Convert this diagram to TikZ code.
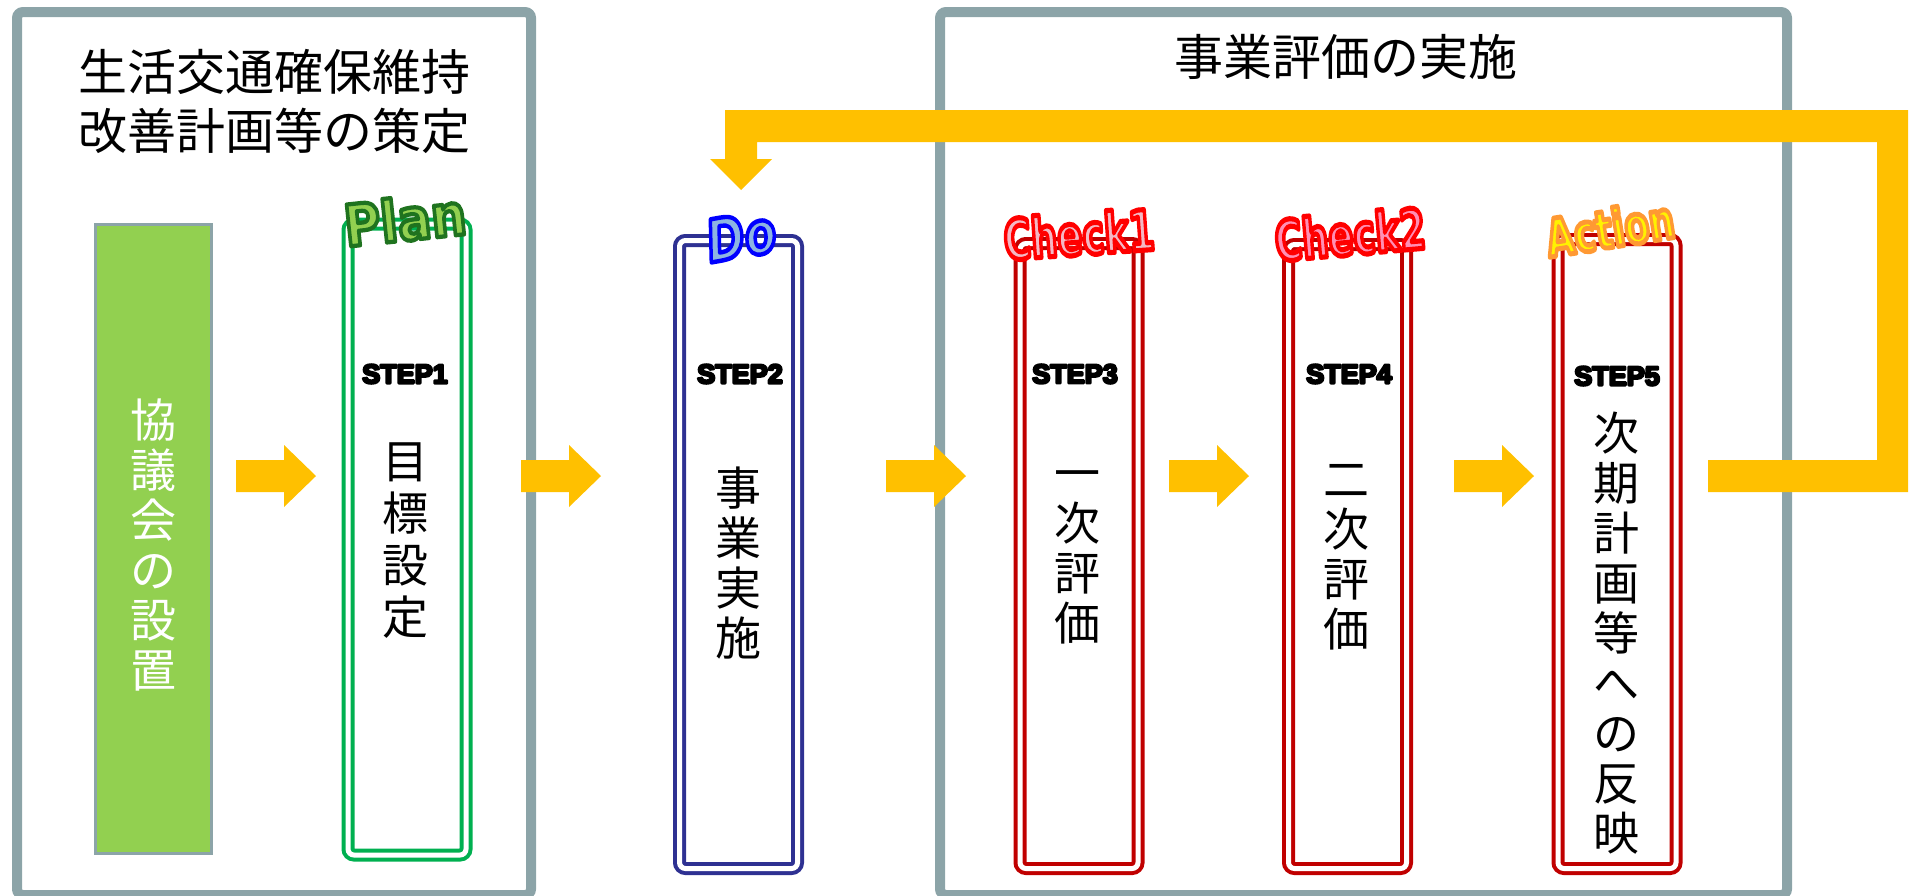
\documentclass[tikz,border=0pt]{standalone}
\usepackage{fontspec}
\usepackage{graphicx}
\newfontfamily\cjk{Noto Sans CJK JP}
\newfontfamily\wafont{DejaVu Sans Bold}
\newfontfamily\waifont{DejaVu Sans Bold Oblique}
\newfontfamily\stepfont{Liberation Sans Bold}
\usetikzlibrary{calc}
\definecolor{framegray}{HTML}{8CA4A8}
\definecolor{arrowyellow}{HTML}{FFC000}
\definecolor{leafgreen}{HTML}{92D050}
\definecolor{plangreen}{HTML}{00B050}
\definecolor{navyblue}{HTML}{2E3192}
\definecolor{darkred}{HTML}{C00000}
\definecolor{dofill}{HTML}{8DB4E2}
\definecolor{pinkA}{HTML}{F4B8C4}
\definecolor{pinkB}{HTML}{FF8FB4}
% outlined text: #1 stroke rgb (0..1), #2 stroke width, #3 text
\newcommand\outlined[3]{\special{pdf:literal direct #1 RG #2 w 1 j 2 Tr}#3\special{pdf:literal direct 0 Tr}}
\tikzset{
  frame/.style={draw=framegray, line width=10pt, rounded corners=6pt},
  stepbox/.style={rectangle, line width=4pt, double=white, double distance=5pt,
    rounded corners=6pt, minimum width=118pt, inner sep=0pt},
  vtext/.style={font=\cjk\fontsize{46}{50}\selectfont, align=center, inner sep=0pt},
  titletext/.style={font=\cjk\fontsize{49}{59}\selectfont, align=center, inner sep=0pt},
  steplabel/.style={font=\stepfont\fontsize{27}{27}\selectfont, inner sep=0pt},
  watext/.style={inner sep=0pt},
  blockarrow/.pic={\fill[arrowyellow] (0,-16) -- (48,-16) -- (48,-31) -- (80,0) -- (48,31) -- (48,16) -- (0,16) -- cycle;}
}
\begin{document}
\begin{tikzpicture}[x=1pt,y=-1pt]
\useasboundingbox (0,0) rectangle (1910,895);
% frames
\draw[frame] (17,12) rectangle (531,895);
\draw[frame] (940,12) rectangle (1787,895);
\node[titletext] (t1) at (274,101) {生活交通確保維持\\改善計画等の策定};
\node[titletext] (t2) at (1346,57) {事業評価の実施};
% green box
\node[rectangle, fill=leafgreen, draw=framegray, line width=3pt, minimum width=116pt, minimum height=629pt, inner sep=0pt] (kyogi) at (153.5,539) {};
\node[vtext, text=white] (kyogit) at (153.5,545) {協\\議\\会\\の\\設\\置};
% step boxes
\node[stepbox, draw=plangreen, minimum height=631pt] (s1) at (407,539.5) {};
\node[stepbox, draw=navyblue, minimum height=628pt] (s2) at (738.5,554.5) {};
\node[stepbox, draw=darkred, minimum height=625pt] (s3) at (1079,556) {};
\node[stepbox, draw=darkred, minimum height=624pt] (s4) at (1347.5,556.5) {};
\node[stepbox, draw=darkred, minimum height=629pt] (s5) at (1617,554) {};
% step labels
\node[steplabel] (l1) at (405,374) {\outlined{0 0 0}{2.4}{STEP1}};
\node[steplabel] (l2) at (740,374) {\outlined{0 0 0}{2.4}{STEP2}};
\node[steplabel] (l3) at (1075,374) {\outlined{0 0 0}{2.4}{STEP3}};
\node[steplabel] (l4) at (1349,374) {\outlined{0 0 0}{2.4}{STEP4}};
\node[steplabel] (l5) at (1617,376) {\outlined{0 0 0}{2.4}{STEP5}};
% vertical texts
\node[vtext, font=\cjk\fontsize{46}{52}\selectfont] (v1) at (405,541) {目\\標\\設\\定};
\node[vtext] (v2) at (738,563) {事\\業\\実\\施};
\node[vtext] (v3) at (1077,557) {一\\次\\評\\価};
\node[vtext] (v4) at (1346,557) {二\\次\\評\\価};
\node[vtext] (v5) at (1616,633) {次\\期\\計\\画\\等\\へ\\の\\反\\映};
% word art labels
\node[watext, text=leafgreen, font=\wafont\fontsize{46}{46}\selectfont, rotate=6] (wplan) at (405,219)
  {\scalebox{1.08}[1.25]{\outlined{0.12 0.45 0.12}{3.4}{Plan}}};
\node[watext, text=dofill, font=\waifont\fontsize{45}{45}\selectfont, rotate=10] (wdo) at (741,236)
  {\scalebox{1.02}[1.3]{\outlined{0 0 1}{3.4}{Do}}};
\node[watext, text=pinkA, font=\wafont\fontsize{37}{37}\selectfont, rotate=4] (wc1) at (1079,234)
  {\scalebox{1}[1.5]{\outlined{1 0 0}{3.4}{Check1}}};
\node[watext, text=pinkB, font=\wafont\fontsize{37}{37}\selectfont, rotate=5] (wc2) at (1350,234)
  {\scalebox{1}[1.5]{\outlined{1 0 0}{3.4}{Check2}}};
\node[watext, text=yellow, font=\wafont\fontsize{36}{36}\selectfont, rotate=9] (wact) at (1610,228)
  {\scalebox{1}[1.45]{\outlined{1 0.6 0.2}{3.4}{Action}}};
% arrows between steps
\coordinate (a1) at (236,476);
\coordinate (a2) at (521,476);
\coordinate (a3) at (886,476);
\coordinate (a4) at (1169,476);
\coordinate (a5) at (1454,476);
\pic at (a1) {blockarrow};
\pic at (a2) {blockarrow};
\pic at (a3) {blockarrow};
\pic at (a4) {blockarrow};
\pic at (a5) {blockarrow};
% feedback loop arrow
\coordinate (loopstart) at (1708,460);
\coordinate (looptip) at (741,190);
\fill[arrowyellow] (loopstart) -- (1877,460) -- (1877,142) -- (757,142) -- (757,159) -- (772,159)
  -- (looptip) -- (710,159) -- (725,159) -- (725,110) -- (1908,110) -- (1908,492) -- (1708,492) -- cycle;
\end{tikzpicture}
\end{document}
